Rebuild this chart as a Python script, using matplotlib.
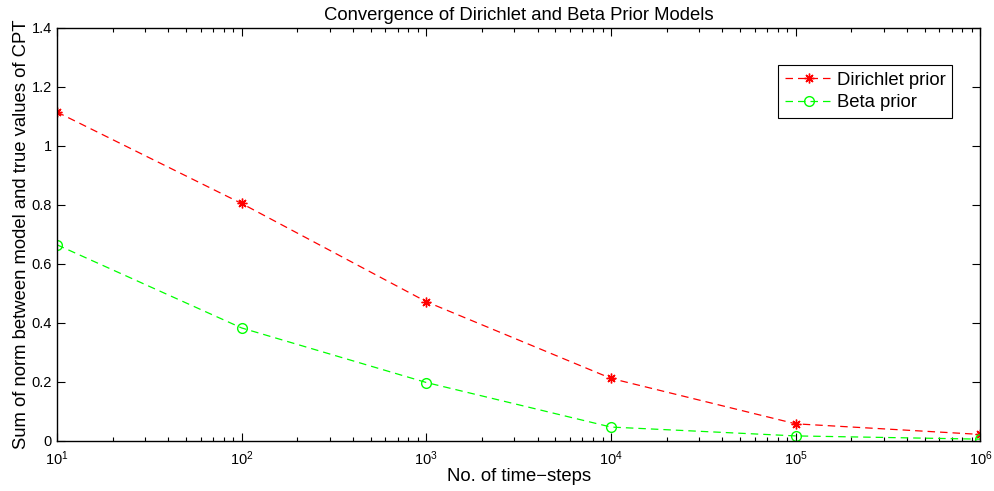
import matplotlib
matplotlib.use('Agg')
import matplotlib.pyplot as plt
from matplotlib.ticker import FuncFormatter, FixedLocator

plt.rcParams['font.family'] = ['Liberation Sans', 'DejaVu Sans']
plt.rcParams['mathtext.fontset'] = 'custom'
plt.rcParams['mathtext.rm'] = 'Liberation Sans'
plt.rcParams['mathtext.it'] = 'Liberation Sans'
plt.rcParams['mathtext.default'] = 'regular'

steps = [1e1, 1e2, 1e3, 1e4, 1e5, 1e6]
dirichlet = [1.115, 0.805, 0.472, 0.212, 0.058, 0.022]
beta = [0.665, 0.383, 0.198, 0.047, 0.017, 0.006]
yticks = [0, 0.2, 0.4, 0.6, 0.8, 1.0, 1.2, 1.4]

fig = plt.figure(figsize=(9.94, 4.91), dpi=100)
ax = fig.add_axes([0.0573, 0.102, 0.929, 0.841])

ax.plot(steps, dirichlet, color='red', marker=(8, 2, 0), markersize=7,
        markeredgewidth=1.0, linewidth=0.9, dashes=(6, 4), label='Dirichlet prior')
ax.plot(steps, beta, color='#00ff00', marker='o', markersize=7,
        markerfacecolor='none', markeredgewidth=1.0, linewidth=0.9, dashes=(6, 4),
        label='Beta prior')

ax.set_xscale('log')
ax.set_xlim(10, 1e6)
ax.set_ylim(0, 1.4)
ax.yaxis.set_major_locator(FixedLocator(yticks))
ax.yaxis.set_major_formatter(FuncFormatter(lambda v, p: '%g' % v))
ax.tick_params(which='both', direction='in', top=True, right=True, labelsize=10.5)
ax.tick_params(which='major', length=6, width=0.8)
ax.tick_params(which='minor', length=3, width=0.8)
ax.tick_params(axis='x', pad=6)
for s in ax.spines.values():
    s.set_linewidth(1.0)

ax.set_title('Convergence of Dirichlet and Beta Prior Models', fontsize=13.3, pad=6)
ax.set_xlabel('No. of time\u2212steps', fontsize=13.3, labelpad=0)
ax.set_ylabel('Sum of norm between model and true values of CPT', fontsize=13.3, labelpad=1)

leg = ax.legend(loc='upper right', bbox_to_anchor=(0.969, 0.91), fontsize=13.3,
                fancybox=False, edgecolor='black', framealpha=1, borderaxespad=0,
                handlelength=2.6, handletextpad=0.2, borderpad=0.35, labelspacing=0.3)
leg.get_frame().set_linewidth(0.8)

fig.savefig('out.png', dpi=100)
